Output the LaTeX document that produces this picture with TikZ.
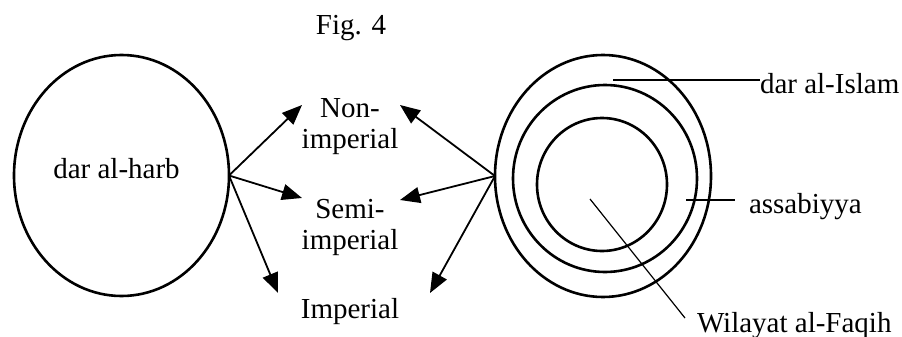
\documentclass[tikz,border=0pt]{standalone}
\usepackage{fontspec}
\setmainfont{Liberation Serif}
\usetikzlibrary{arrows.meta,shapes.geometric}
\begin{document}
\begin{tikzpicture}[x=1pt,y=-1pt,
  every node/.style={inner sep=0pt,outer sep=0pt,font=\fontsize{29}{31.5}\selectfont},
  ring/.style={draw,ellipse,line width=2.6pt},
  lbl/.style={anchor=base,align=center},
  arr/.style={line width=1.8pt,-{Triangle[length=20pt,width=16pt]}},
  leader/.style={line width=1.6pt}]
\useasboundingbox (0,0) rectangle (902,337);
% title
\node[lbl] (fig) at (351,35) {Fig. 4};
% left ellipse
\node[ring,minimum width=215pt,minimum height=241pt] (harb) at (121.5,175.5) {};
\node[lbl] (harbtxt) at (116.5,178) {dar al-harb};
% right circles
\node[ring,minimum width=216pt,minimum height=242pt] (islam) at (603,176) {};
\node[ring,minimum width=184pt,minimum height=187pt] (assab) at (605,178.5) {};
\node[ring,minimum width=130pt,minimum height=133pt] (wilayat) at (602,184.5) {};
% middle labels
\node[lbl] (non) at (350,148.5) {Non-\\imperial};
\node[lbl] (semi) at (350,249.5) {Semi-\\imperial};
\node[lbl] (imp) at (350,318) {Imperial};
% arrow tips
\coordinate (lt1) at (302,105);
\coordinate (lt2) at (302,198);
\coordinate (lt3) at (278,293);
\coordinate (rt1) at (400,105);
\coordinate (rt2) at (400,200);
\coordinate (rt3) at (430,293);
\draw[arr] (harb.east) -- (lt1);
\draw[arr] (harb.east) -- (lt2);
\draw[arr] (harb.east) -- (lt3);
\draw[arr] (islam.west) -- (rt1);
\draw[arr] (islam.west) -- (rt2);
\draw[arr] (islam.west) -- (rt3);
% right labels
\node[anchor=base west] (tislam) at (760,93) {dar al-Islam};
\node[anchor=base west] (tassab) at (749,213) {assabiyya};
\node[anchor=base west] (twil) at (697,332) {Wilayat al-Faqih};
\coordinate (l1) at (613,80);
\coordinate (l2) at (686,200);
\coordinate (l3) at (590,199);
\coordinate (l3e) at (685,318);
\draw[leader] (l1) -- (l1 -| tislam.west);
\draw[leader] (l2) -- (735,200);
\draw[line width=1.2pt] (l3) -- (l3e);
\end{tikzpicture}
\end{document}
